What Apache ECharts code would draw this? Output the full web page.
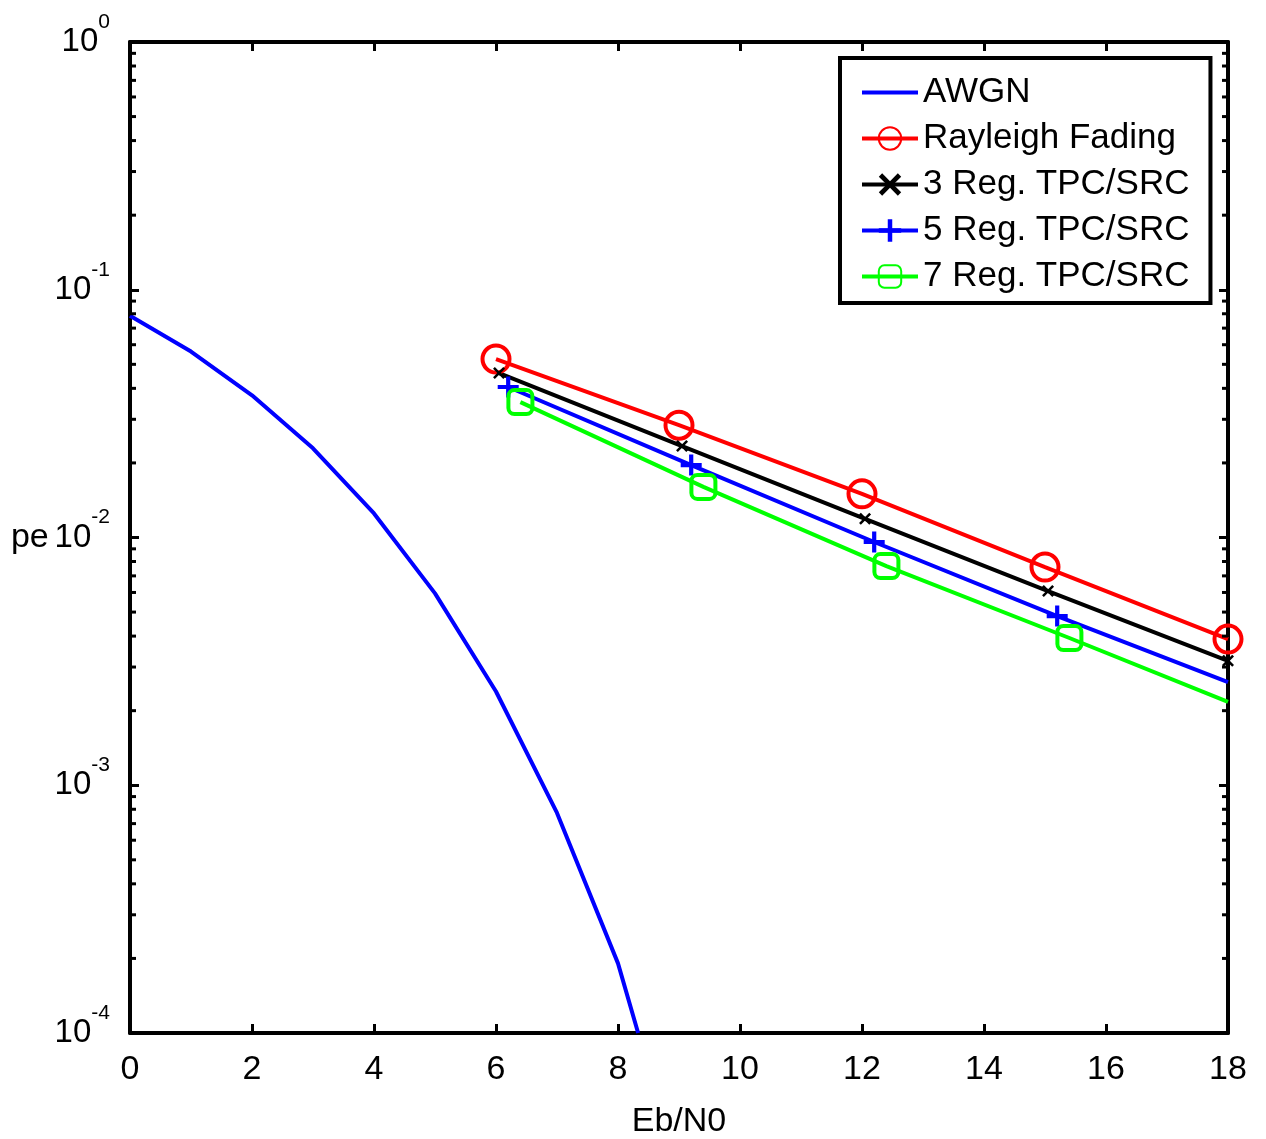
<!DOCTYPE html>
<html>
<head>
<meta charset="utf-8">
<script src="https://cdn.jsdelivr.net/npm/echarts@6/dist/echarts.min.js"></script>
<style>
  html, body { margin: 0; padding: 0; background: #fff; }
  #chart { width: 1266px; height: 1139px; }
</style>
</head>
<body>
<div id="chart"></div>
<script>
// values (Eb/N0 in dB, pe on log scale)
var awgnX = [0, 1, 2, 3, 4, 5, 6, 7, 8, 8.33];
var awgnY = [0.0786, 0.0563, 0.0375, 0.0229, 0.0125, 0.00595, 0.00239, 0.000773, 0.000191, 0.0001];

var rayX = [6, 9, 12, 15, 18];
var rayY = [0.0525, 0.0284, 0.0150, 0.0076, 0.00389];

var reg3X = [6.05, 9.05, 12.05, 15.05, 18];
var reg3Y = [0.0461, 0.0234, 0.0119, 0.00608, 0.00318];

var reg5X = [6.2, 9.2, 12.2, 15.2, 18];
var reg5Y = [0.0405, 0.0196, 0.00959, 0.00482, 0.00261];
var reg5Marked = [true, true, true, true, false];

var reg7X = [6.4, 9.4, 12.4, 15.4, 18];
var reg7Y = [0.0352, 0.0160, 0.00767, 0.00393, 0.00217];
var reg7Marked = [true, true, true, true, false];

var seriesNames = ['AWGN', 'Rayleigh Fading', '3 Reg. TPC/SRC', '5 Reg. TPC/SRC', '7 Reg. TPC/SRC'];

// minor tick positions on the log axis (2..9 x 10^k)
var minorTicks = [];
for (var k = -4; k < 0; k++) {
    for (var m = 2; m <= 9; m++) {
        minorTicks.push(m * Math.pow(10, k));
    }
}

function pts(xs, ys, marked) {
    return xs.map(function(x, i) {
        var d = { value: [x, ys[i]] };
        if (marked && !marked[i]) d.symbol = 'none';
        return d;
    });
}

var font = 'Liberation Sans, Arial, sans-serif';
var xMark = 'path://M0,1.5 L1.5,0 L5,3.5 L8.5,0 L10,1.5 L6.5,5 L10,8.5 L8.5,10 L5,6.5 L1.5,10 L0,8.5 L3.5,5 Z';
var plusMark = 'path://M0,4 L4,4 L4,0 L6,0 L6,4 L10,4 L10,6 L6,6 L6,10 L4,10 L4,6 L0,6 Z';
// plain line icon for the AWGN legend entry (box 56 x 28, bar in the middle)
var lineIcon = 'path://M0,0 L56,0 M0,12 L56,12 L56,16 L0,16 Z M0,28 L56,28';

function yLabel(v) {
    var e = Math.round(Math.log10(v));
    return '{b|10}{s|' + e + '}';
}

var myChart = echarts.init(document.getElementById('chart'));

var axisLine = { show: true, onZero: false, lineStyle: { color: '#000', width: 4 } };
var tickIn = { show: true, inside: true, length: 9, lineStyle: { color: '#000', width: 3 } };

var option = {
    animation: false,
    backgroundColor: '#fff',
    textStyle: { fontFamily: font },
    grid: { left: 130, right: 38, top: 42, bottom: 106, outerBoundsMode: 'none', containLabel: false },
    legend: {
        orient: 'vertical',
        left: 840,
        top: 58,
        data: [
            { name: seriesNames[0], icon: lineIcon },
            seriesNames[1], seriesNames[2], seriesNames[3], seriesNames[4]
        ],
        itemWidth: 56,
        itemHeight: 28,
        itemGap: 11,
        padding: [17, 21, 9, 20],
        borderColor: '#000',
        borderWidth: 4,
        backgroundColor: '#fff',
        lineStyle: { width: 4 },
        textStyle: { fontFamily: font, fontSize: 35, color: '#000' }
    },
    xAxis: [{
        type: 'value',
        min: 0,
        max: 18,
        interval: 2,
        name: 'Eb/N0',
        nameLocation: 'middle',
        nameGap: 72,
        nameTextStyle: { fontFamily: font, fontSize: 34, color: '#000' },
        axisLine: axisLine,
        axisTick: tickIn,
        axisLabel: { fontFamily: font, fontSize: 34, color: '#000', margin: 20 },
        splitLine: { show: false }
    }, {
        type: 'value',
        position: 'top',
        min: 0,
        max: 18,
        interval: 2,
        axisLine: axisLine,
        axisTick: tickIn,
        axisLabel: { show: false },
        splitLine: { show: false }
    }],
    yAxis: [{
        type: 'log',
        logBase: 10,
        min: 0.0001,
        max: 1,
        name: 'pe',
        nameLocation: 'middle',
        nameRotate: 0,
        nameGap: 70,
        nameTextStyle: { fontFamily: font, fontSize: 34, color: '#000' },
        axisLine: axisLine,
        axisTick: tickIn,
        axisLabel: {
            margin: 20,
            formatter: yLabel,
            rich: {
                b: { fontFamily: font, fontSize: 33, color: '#000' },
                s: { fontFamily: font, fontSize: 21, color: '#000', padding: [0, 0, 40, 0] }
            }
        },
        splitLine: { show: false }
    }, {
        type: 'log',
        logBase: 10,
        position: 'right',
        min: 0.0001,
        max: 1,
        axisLine: axisLine,
        axisTick: tickIn,
        axisLabel: { show: false },
        splitLine: { show: false }
    }],
    series: [{
        name: seriesNames[0],
        type: 'line',
        data: pts(awgnX, awgnY),
        symbol: 'none',
        color: '#0000ff',
        lineStyle: { width: 4, color: '#0000ff' }
    }, {
        name: seriesNames[1],
        type: 'line',
        data: pts(rayX, rayY),
        symbol: 'circle',
        symbolSize: 27,
        color: '#ff0000',
        lineStyle: { width: 4, color: '#ff0000' },
        itemStyle: { color: 'transparent', borderColor: '#ff0000', borderWidth: 4 }
    }, {
        name: seriesNames[2],
        type: 'line',
        data: pts(reg3X, reg3Y),
        symbol: xMark,
        symbolSize: 12,
        color: '#000',
        lineStyle: { width: 4, color: '#000' },
        itemStyle: { color: '#000' }
    }, {
        name: seriesNames[3],
        type: 'line',
        data: pts(reg5X, reg5Y, reg5Marked),
        symbol: plusMark,
        symbolSize: 21,
        color: '#0000ff',
        lineStyle: { width: 4, color: '#0000ff' },
        itemStyle: { color: '#0000ff' }
    }, {
        name: seriesNames[4],
        type: 'line',
        data: pts(reg7X, reg7Y, reg7Marked),
        symbol: 'roundRect',
        symbolSize: 24,
        color: '#00ff00',
        lineStyle: { width: 4, color: '#00ff00' },
        itemStyle: { color: 'transparent', borderColor: '#00ff00', borderWidth: 4 }
    }, {
        // log minor ticks on left and right axes
        type: 'custom',
        silent: true,
        clip: false,
        z: 5,
        data: minorTicks.map(function(v) { return [0, v]; }),
        renderItem: function(params, api) {
            var l = api.coord([0, api.value(1)]);
            var r = api.coord([18, api.value(1)]);
            var st = { stroke: '#000', lineWidth: 3 };
            return {
                type: 'group',
                children: [
                    { type: 'line', shape: { x1: l[0], y1: l[1], x2: l[0] + 6, y2: l[1] }, style: st },
                    { type: 'line', shape: { x1: r[0], y1: r[1], x2: r[0] - 6, y2: r[1] }, style: st }
                ]
            };
        }
    }]
};

myChart.setOption(option);
</script>
</body>
</html>
